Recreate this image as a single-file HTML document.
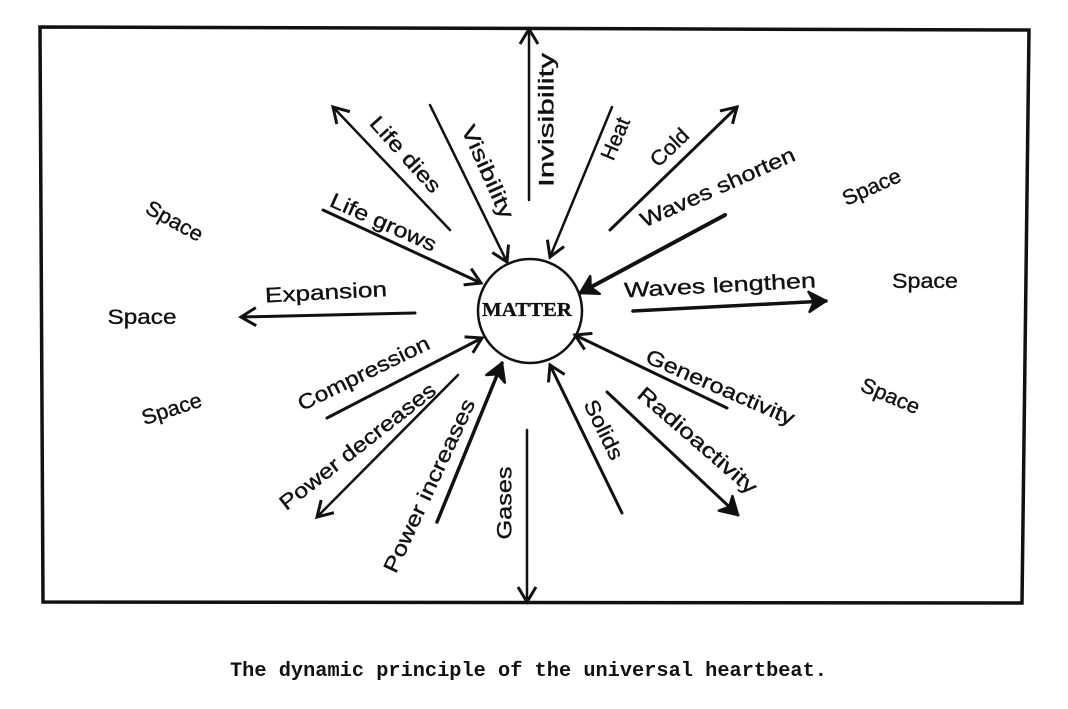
<!DOCTYPE html>
<html>
<head>
<meta charset="utf-8">
<style>
html,body{margin:0;padding:0;background:#fff;}
svg{display:block;}
.t{font-family:"Liberation Sans",sans-serif;font-size:21px;fill:#111;stroke:#111;stroke-width:0.35px;}
</style>
</head>
<body>
<svg width="1068" height="709" viewBox="0 0 1068 709" xmlns="http://www.w3.org/2000/svg">
<defs>
<marker id="h" markerUnits="userSpaceOnUse" markerWidth="26" markerHeight="26" refX="18" refY="12" orient="auto" overflow="visible">
<path d="M3,3 L18,12 L3,21" fill="none" stroke="#111" stroke-width="3"/>
</marker>
<marker id="hb" markerUnits="userSpaceOnUse" markerWidth="26" markerHeight="26" refX="19" refY="12" orient="auto" overflow="visible">
<path d="M2,2 L19,12 L2,22 L7,12 Z" fill="#111" stroke="#111" stroke-width="2.5" stroke-linejoin="round"/>
</marker>
</defs>

<!-- frame -->
<path d="M40,27 L1029,30 L1022,603 L43,602 Z" fill="none" stroke="#111" stroke-width="3.5"/>

<!-- circle -->
<circle cx="530" cy="311" r="52" fill="none" stroke="#111" stroke-width="2.5"/>
<text x="527" y="316" text-anchor="middle" textLength="90" lengthAdjust="spacingAndGlyphs" style="font-family:'Liberation Serif',serif;font-weight:bold;font-size:20px;fill:#111;stroke:#111;stroke-width:0.3px;">MATTER</text>

<g stroke="#111" fill="none" stroke-linecap="round">
<line x1="529" y1="200" x2="529" y2="29" stroke-width="2.5" marker-end="url(#h)"/>
<line x1="450" y1="230" x2="333" y2="107" stroke-width="2.5" marker-end="url(#h)"/>
<line x1="430" y1="105" x2="507" y2="262" stroke-width="2.5" marker-end="url(#h)"/>
<line x1="323" y1="210" x2="481" y2="283" stroke-width="3" marker-end="url(#h)"/>
<line x1="415" y1="313" x2="241" y2="317" stroke-width="3" marker-end="url(#h)"/>
<line x1="612" y1="107" x2="550" y2="257" stroke-width="2.5" marker-end="url(#h)"/>
<line x1="610" y1="230" x2="737" y2="107" stroke-width="3" marker-end="url(#h)"/>
<line x1="725" y1="215" x2="580" y2="293" stroke-width="4" marker-end="url(#hb)"/>
<line x1="633" y1="311" x2="826" y2="301" stroke-width="3.5" marker-end="url(#hb)"/>
<line x1="327" y1="418" x2="482" y2="338" stroke-width="3" marker-end="url(#h)"/>
<line x1="458" y1="375" x2="317" y2="517" stroke-width="2.5" marker-end="url(#h)"/>
<line x1="437" y1="522" x2="502" y2="363" stroke-width="3.5" marker-end="url(#hb)"/>
<line x1="527" y1="430" x2="527" y2="602" stroke-width="2.5" marker-end="url(#h)"/>
<line x1="727" y1="408" x2="575" y2="335" stroke-width="3" marker-end="url(#h)"/>
<line x1="607" y1="392" x2="738" y2="515" stroke-width="3" marker-end="url(#hb)"/>
<line x1="622" y1="513" x2="550" y2="365" stroke-width="3" marker-end="url(#h)"/>
</g>

<!-- labels -->
<g class="t" text-anchor="middle">
<text transform="translate(547,120) rotate(-90)" dy="0.3em" textLength="134" lengthAdjust="spacingAndGlyphs">Invisibility</text>
<text transform="translate(405,155) rotate(48)" dy="0.3em" textLength="95" lengthAdjust="spacingAndGlyphs">Life dies</text>
<text transform="translate(487,172) rotate(66)" dy="0.3em" textLength="100" lengthAdjust="spacingAndGlyphs">Visibility</text>
<text transform="translate(383,223) rotate(24)" dy="0.3em" textLength="114" lengthAdjust="spacingAndGlyphs">Life grows</text>
<text transform="translate(326,293) rotate(-3)" dy="0.3em" textLength="122" lengthAdjust="spacingAndGlyphs">Expansion</text>
<text transform="translate(616,139) rotate(-67)" dy="0.3em" textLength="44" lengthAdjust="spacingAndGlyphs">Heat</text>
<text transform="translate(670,148) rotate(-44)" dy="0.3em" textLength="45" lengthAdjust="spacingAndGlyphs">Cold</text>
<text transform="translate(718,188) rotate(-24)" dy="0.3em" textLength="167" lengthAdjust="spacingAndGlyphs">Waves shorten</text>
<text transform="translate(720,286) rotate(-3)" dy="0.3em" textLength="192" lengthAdjust="spacingAndGlyphs">Waves lengthen</text>
<text transform="translate(364,374) rotate(-26)" dy="0.3em" textLength="144" lengthAdjust="spacingAndGlyphs">Compression</text>
<text transform="translate(358,447) rotate(-38)" dy="0.3em" textLength="192" lengthAdjust="spacingAndGlyphs">Power decreases</text>
<text transform="translate(430,486) rotate(-65)" dy="0.3em" textLength="189" lengthAdjust="spacingAndGlyphs">Power increases</text>
<text transform="translate(505,503) rotate(-90)" dy="0.3em" textLength="73" lengthAdjust="spacingAndGlyphs">Gases</text>
<text transform="translate(720,388) rotate(23.5)" dy="0.3em" textLength="160" lengthAdjust="spacingAndGlyphs">Generoactivity</text>
<text transform="translate(697,441) rotate(41)" dy="0.3em" textLength="151" lengthAdjust="spacingAndGlyphs">Radioactivity</text>
<text transform="translate(603,430) rotate(64)" dy="0.3em" textLength="64" lengthAdjust="spacingAndGlyphs">Solids</text>

<text transform="translate(174,222) rotate(29)" dy="0.28em" textLength="62" lengthAdjust="spacingAndGlyphs">Space</text>
<text transform="translate(142,318)" dy="0.28em" textLength="69" lengthAdjust="spacingAndGlyphs">Space</text>
<text transform="translate(172,410) rotate(-18)" dy="0.28em" textLength="62" lengthAdjust="spacingAndGlyphs">Space</text>
<text transform="translate(872,188) rotate(-24)" dy="0.28em" textLength="62" lengthAdjust="spacingAndGlyphs">Space</text>
<text transform="translate(925,282)" dy="0.28em" textLength="66" lengthAdjust="spacingAndGlyphs">Space</text>
<text transform="translate(890,397) rotate(23)" dy="0.28em" textLength="62" lengthAdjust="spacingAndGlyphs">Space</text>
</g>

<!-- caption -->
<text x="230" y="676" textLength="597" lengthAdjust="spacingAndGlyphs" style="font-family:'Liberation Mono',monospace;font-weight:bold;font-size:20px;fill:#111;">The dynamic principle of the universal heartbeat.</text>
</svg>
</body>
</html>
